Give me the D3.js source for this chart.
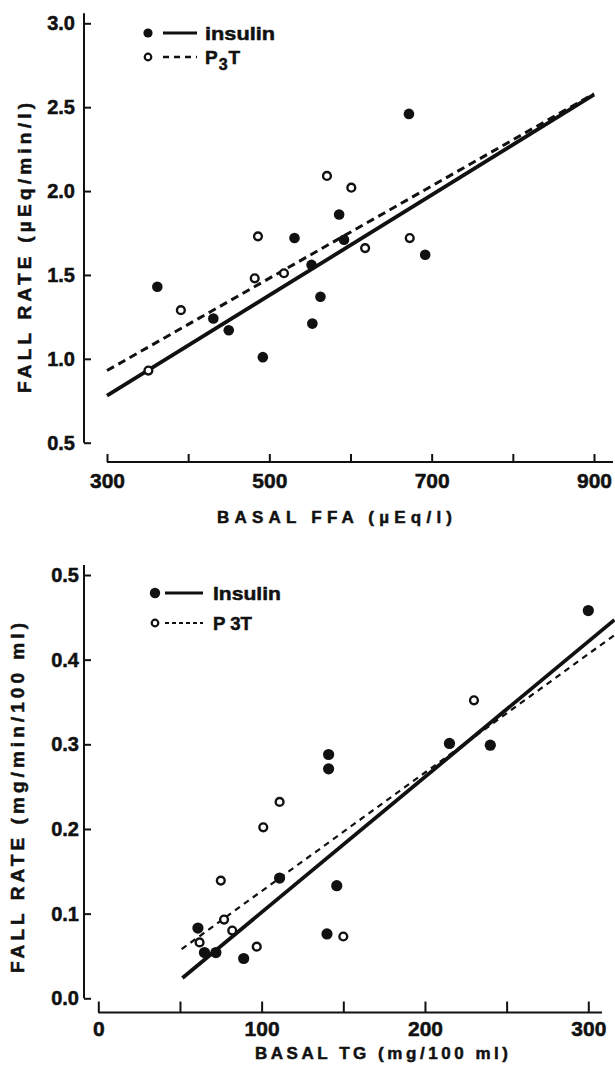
<!DOCTYPE html>
<html>
<head>
<meta charset="utf-8">
<script src="https://cdn.jsdelivr.net/npm/d3@7/dist/d3.min.js"></script>
<style>
  html, body { margin: 0; padding: 0; background: #fff; }
  svg { display: block; }
  text { font-family: "Liberation Sans", Arial, sans-serif; font-weight: bold; fill: #111; stroke: #111; stroke-width: 0.5px; }
</style>
</head>
<body>
<svg id="chart" width="615" height="1065"></svg>
<script>
// ---------- DATA: top panel (BASAL FFA vs FALL RATE) ----------
const topInsulinX = [672, 586, 531, 592, 692, 552, 362, 563, 431, 450, 553, 492];
const topInsulinY = [2.46, 1.86, 1.72, 1.71, 1.62, 1.56, 1.43, 1.37, 1.24, 1.17, 1.21, 1.01];
const topP3TX = [571, 601, 486, 673, 618, 482, 518, 391, 351];
const topP3TY = [2.09, 2.02, 1.73, 1.72, 1.66, 1.48, 1.51, 1.29, 0.93];
const topInsulinFitX = [300, 900];
const topInsulinFitY = [0.78, 2.575];
const topP3TFitX = [300, 900];
const topP3TFitY = [0.93, 2.58];
const topXTicks = [300, 400, 500, 600, 700, 800, 900];
const topXLabels = [300, 500, 700, 900];
const topYTicks = [0.5, 1.0, 1.5, 2.0, 2.5, 3.0];

// ---------- DATA: bottom panel (BASAL TG vs FALL RATE) ----------
const botInsulinX = [300, 215, 240, 141, 141, 111, 146, 61, 140, 65, 72, 89];
const botInsulinY = [0.458, 0.301, 0.299, 0.288, 0.271, 0.142, 0.133, 0.083, 0.076, 0.054, 0.054, 0.047];
const botP3TX = [230, 111, 101, 75, 77, 82, 62, 97, 150];
const botP3TY = [0.352, 0.232, 0.202, 0.139, 0.093, 0.080, 0.066, 0.061, 0.073];
const botInsulinFitX = [51.5, 316];
const botInsulinFitY = [0.024, 0.447];
const botP3TFitX = [51, 316];
const botP3TFitY = [0.058, 0.429];
const botXTicks = [0, 50, 100, 150, 200, 250, 300];
const botXLabels = [0, 100, 200, 300];
const botYTicks = [0.0, 0.1, 0.2, 0.3, 0.4, 0.5];

const zip = (xs, ys) => xs.map((x, i) => [x, ys[i]]);
const svg = d3.select("#chart");
const INK = "#111";

function panel(cfg) {
  const g = svg.append("g");
  const x = d3.scaleLinear().domain(cfg.xDomain).range(cfg.xRange);
  const y = d3.scaleLinear().domain(cfg.yDomain).range(cfg.yRange);

  // y axis
  const yAx = g.append("g").attr("transform", `translate(${cfg.yAxisX},0)`)
    .call(d3.axisLeft(y).tickValues(cfg.yTicks).tickSizeInner(-7).tickSizeOuter(0)
      .tickPadding(cfg.yPad).tickFormat(d3.format(".1f")));
  yAx.select(".domain").remove();
  yAx.selectAll(".tick line").attr("stroke", INK).attr("stroke-width", 2);
  yAx.selectAll(".tick text").attr("font-size", 20).attr("font-family", null).attr("fill", INK);
  g.append("line").attr("x1", cfg.yAxisX).attr("x2", cfg.yAxisX)
    .attr("y1", y(cfg.yDomain[1]) - 10).attr("y2", y(cfg.yDomain[0]))
    .attr("stroke", INK).attr("stroke-width", 2);

  // x axis
  const xAx = g.append("g").attr("transform", `translate(0,${cfg.xAxisY})`)
    .call(d3.axisBottom(x).tickValues(cfg.xTicks).tickSizeInner(-cfg.xTickLen).tickSizeOuter(0)
      .tickPadding(cfg.xPad).tickFormat(d => cfg.xLabels.includes(d) ? d : ""));
  xAx.select(".domain").remove();
  xAx.selectAll(".tick line").attr("stroke", INK).attr("stroke-width", 2);
  xAx.selectAll(".tick text").attr("font-size", 21).attr("font-family", null).attr("fill", INK);
  g.append("line").attr("x1", x(cfg.xDomain[0])).attr("x2", cfg.xAxisEnd)
    .attr("y1", cfg.xAxisY).attr("y2", cfg.xAxisY)
    .attr("stroke", INK).attr("stroke-width", 2.2);

  // fit lines
  const line = d3.line().x(d => x(d[0])).y(d => y(d[1]));
  g.append("path").datum(zip(cfg.p3tFitX, cfg.p3tFitY)).attr("d", line)
    .attr("fill", "none").attr("stroke", INK).attr("stroke-width", cfg.dashW)
    .attr("stroke-dasharray", cfg.dash);
  g.append("path").datum(zip(cfg.insFitX, cfg.insFitY)).attr("d", line)
    .attr("fill", "none").attr("stroke", INK).attr("stroke-width", 3.8);

  // points
  g.selectAll(".ins").data(zip(cfg.insX, cfg.insY)).join("circle")
    .attr("cx", d => x(d[0])).attr("cy", d => y(d[1])).attr("r", cfg.rFill).attr("fill", INK);
  g.selectAll(".p3t").data(zip(cfg.p3tX, cfg.p3tY)).join("circle")
    .attr("cx", d => x(d[0])).attr("cy", d => y(d[1])).attr("r", 3.9)
    .attr("fill", "#fff").attr("stroke", INK).attr("stroke-width", 2.4);

  // legend
  const L = cfg.legend;
  g.append("circle").attr("cx", L.x).attr("cy", L.y1).attr("r", L.rFill).attr("fill", INK);
  g.append("line").attr("x1", L.lx1).attr("x2", L.lx2).attr("y1", L.y1).attr("y2", L.y1)
    .attr("stroke", INK).attr("stroke-width", 3);
  g.append("text").attr("x", L.tx).attr("y", L.y1 + 7).attr("font-size", 19)
    .attr("textLength", L.insW).attr("lengthAdjust", "spacingAndGlyphs").text(L.insLabel);
  g.append("circle").attr("cx", L.x).attr("cy", L.y2).attr("r", 3.3)
    .attr("fill", "#fff").attr("stroke", INK).attr("stroke-width", 2.2);
  g.append("line").attr("x1", L.lx1).attr("x2", L.lx2).attr("y1", L.y2).attr("y2", L.y2)
    .attr("stroke", INK).attr("stroke-width", L.dashW).attr("stroke-dasharray", L.dash);
  const t2 = g.append("text").attr("x", L.tx).attr("y", L.y2 + 7).attr("font-size", 19);
  if (L.sub) {
    t2.append("tspan").text("P");
    t2.append("tspan").attr("dy", 6).attr("dx", 1).attr("font-size", 16).text("3");
    t2.append("tspan").attr("dy", -6).attr("dx", 1).text("T");
  } else {
    t2.attr("textLength", 39).attr("lengthAdjust", "spacingAndGlyphs").text("P 3T");
  }

  // axis titles
  g.append("text").attr("x", cfg.xTitle.x).attr("y", cfg.xTitle.y).attr("font-size", 17)
    .attr("textLength", cfg.xTitle.w).attr("lengthAdjust", "spacing").text(cfg.xTitle.text);
  g.append("text").attr("transform", `translate(${cfg.yTitle.x},${cfg.yTitle.y}) rotate(-90)`)
    .attr("font-size", 19).attr("text-anchor", "start")
    .attr("textLength", cfg.yTitle.w).attr("lengthAdjust", "spacing").text(cfg.yTitle.text);
}

panel({
  xDomain: [300, 900], xRange: [107, 594],
  yDomain: [0.5, 3.0], yRange: [442.7, 23.3],
  yAxisX: 84, yPad: 9, yTicks: topYTicks,
  xAxisY: 462, xAxisEnd: 613, xTickLen: 8, xPad: 11, xTicks: topXTicks, xLabels: topXLabels,
  insX: topInsulinX, insY: topInsulinY, p3tX: topP3TX, p3tY: topP3TY,
  insFitX: topInsulinFitX, insFitY: topInsulinFitY, p3tFitX: topP3TFitX, p3tFitY: topP3TFitY,
  dashW: 3, dash: "8,5", rFill: 5.3,
  legend: { x: 148, y1: 33, y2: 57, lx1: 163, lx2: 197, tx: 205, insW: 70, rFill: 4.6,
            insLabel: "insulin", dash: "6,5", dashW: 2.4, sub: true },
  xTitle: { x: 217, y: 523, w: 235, text: "BASAL FFA (\u00b5Eq/l)" },
  yTitle: { x: 31, y: 393, w: 290, text: "FALL RATE (\u00b5Eq/min/l)" }
});

panel({
  xDomain: [0, 300], xRange: [98.3, 588.3],
  yDomain: [0, 0.5], yRange: [998.3, 575],
  yAxisX: 84, yPad: 5, yTicks: botYTicks,
  xAxisY: 1012.5, xAxisEnd: 602, xTickLen: 11, xPad: 9, xTicks: botXTicks, xLabels: botXLabels,
  insX: botInsulinX, insY: botInsulinY, p3tX: botP3TX, p3tY: botP3TY,
  insFitX: botInsulinFitX, insFitY: botInsulinFitY, p3tFitX: botP3TFitX, p3tFitY: botP3TFitY,
  dashW: 2.2, dash: "6,5", rFill: 5.6,
  legend: { x: 155, y1: 593, y2: 623, lx1: 165, lx2: 203, tx: 213, insW: 68, rFill: 5.2,
            insLabel: "Insulin", dash: "4,3", dashW: 2, sub: false },
  xTitle: { x: 255, y: 1059, w: 253, text: "BASAL TG (mg/100 ml)" },
  yTitle: { x: 24, y: 973, w: 350, text: "FALL RATE (mg/min/100 ml)" }
});
</script>
</body>
</html>
